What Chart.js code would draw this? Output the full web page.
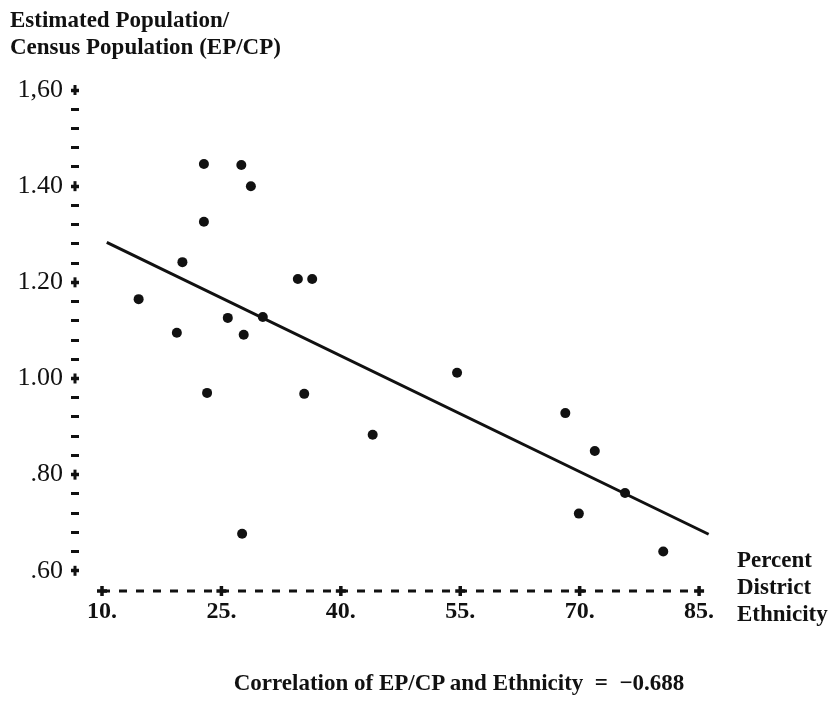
<!DOCTYPE html>
<html>
<head>
<meta charset="utf-8">
<script src="https://cdn.jsdelivr.net/npm/chart.js@4.4.1/dist/chart.umd.min.js"></script>
<style>
	body { margin: 0; background: #fff; }
	#wrap { position: relative; width: 836px; height: 708px; font-family: "Liberation Serif", serif; color: #111; }
	#wrap canvas { position: absolute; left: 0; top: 0; }
	.yTitle { position: absolute; left: 10px; top: 6px; font-weight: bold; font-size: 23px; line-height: 27px; }
	.xTitle { position: absolute; left: 737px; top: 546px; font-weight: bold; font-size: 23px; line-height: 27px; }
	.note { position: absolute; left: 0; width: 918px; top: 669px; text-align: center; font-weight: bold; font-size: 23px; line-height: 27px; }
</style>
</head>
<body>
<div id="wrap">
	<canvas id="scatterEthnicity" width="836" height="708"></canvas>
	<div class="yTitle">Estimated Population/<br>Census Population (EP/CP)</div>
	<div class="xTitle">Percent<br>District<br>Ethnicity</div>
	<div class="note">Correlation of EP/CP and Ethnicity &nbsp;=&nbsp; &minus;0.688</div>
</div>
<script>
// percent district ethnicity vs. EP/CP, one entry per district
const ethnicity = [14.6, 19.4, 20.1, 22.8, 22.8, 23.2, 25.8, 27.5, 27.8, 28.7, 27.6,
	30.2, 34.6, 36.4, 35.4, 44.0, 54.6, 68.2, 71.9, 69.9, 75.7, 80.5];
const epcp = [1.165, 1.095, 1.242, 1.446, 1.326, 0.970, 1.126, 1.444, 1.091, 1.400, 0.677,
	1.128, 1.207, 1.207, 0.968, 0.883, 1.012, 0.928, 0.849, 0.719, 0.762, 0.640];

// fitted line end points
const fitX = [10.6, 86.2];
const fitY = [1.283, 0.676];

const xTicks = [10, 25, 40, 55, 70, 85];
const xTickLabels = ["10.", "25.", "40.", "55.", "70.", "85."];
const yTicks = [0.6, 0.8, 1.0, 1.2, 1.4, 1.6];
const yTickLabels = [".60", ".80", "1.00", "1.20", "1.40", "1,60"];

const xMin = 7.11, xMax = 87;
const yMin = 0.558, yMax = 1.6;
const ink = "#111";

function majorIndex(v) {
	return yTicks.findIndex((t) => Math.abs(t - v) < 1e-6);
}

// vertical arm of the "+" marks on the y axis
const yAxisPlus = {
	id: "yAxisPlus",
	afterDraw(chart) {
		const ctx = chart.ctx;
		const y = chart.scales.y;
		const cx = chart.chartArea.left - 4;
		ctx.save();
		ctx.strokeStyle = ink;
		ctx.lineWidth = 3;
		yTicks.forEach((v) => {
			const py = y.getPixelForValue(v);
			ctx.beginPath();
			ctx.moveTo(cx, py - 5);
			ctx.lineTo(cx, py + 5);
			ctx.stroke();
		});
		ctx.restore();
	},
};

new Chart(document.getElementById("scatterEthnicity").getContext("2d"), {
	type: "scatter",
	data: {
		datasets: [
			{
				label: "Districts",
				data: ethnicity.map((x, i) => ({ x: x, y: epcp[i] })),
				pointRadius: 5,
				pointBackgroundColor: ink,
				pointBorderWidth: 0,
				clip: false,
			},
			{
				type: "line",
				label: "Fit",
				data: fitX.map((x, i) => ({ x: x, y: fitY[i] })),
				borderColor: ink,
				borderWidth: 3,
				pointRadius: 0,
				fill: false,
				clip: false,
			},
			{
				type: "line",
				label: "x axis",
				data: xTicks.map((x) => ({ x: x, y: yMin })),
				borderColor: ink,
				borderWidth: 3,
				borderDash: [8, 9],
				pointStyle: "cross",
				pointRadius: 5,
				pointBorderWidth: 3.5,
				pointBorderColor: ink,
				fill: false,
				clip: false,
			},
		],
	},
	options: {
		responsive: false,
		animation: false,
		layout: { padding: { top: 90, left: 0, right: 121, bottom: 77 } },
		scales: {
			x: {
				type: "linear",
				min: xMin,
				max: xMax,
				afterBuildTicks: (s) => { s.ticks = xTicks.map((v) => ({ value: v })); },
				afterFit: (s) => { s.height = 40; },
				grid: { display: false },
				border: { display: false },
				ticks: {
					autoSkip: false,
					maxRotation: 0,
					padding: -2,
					color: ink,
					font: { family: "Liberation Serif", size: 24, weight: "bold" },
					callback: (v) => {
						const i = xTicks.indexOf(v);
						return i >= 0 ? xTickLabels[i] : "";
					},
				},
			},
			y: {
				min: yMin,
				max: yMax,
				afterBuildTicks: (s) => { s.ticks = s.ticks.filter((t) => t.value >= yTicks[0] - 1e-6); },
				afterFit: (s) => { s.width = 79; },
				border: { display: false },
				grid: {
					drawOnChartArea: false,
					drawTicks: true,
					tickLength: 8,
					tickColor: ink,
					tickWidth: (c) => (c.tick && majorIndex(c.tick.value) >= 0 ? 3.5 : 3),
				},
				ticks: {
					stepSize: 0.04,
					autoSkip: false,
					includeBounds: false,
					padding: 8,
					color: ink,
					font: { family: "Liberation Serif", size: 26 },
					callback: (v) => {
						const i = majorIndex(v);
						return i >= 0 ? yTickLabels[i] : "";
					},
				},
			},
		},
		plugins: {
			legend: { display: false },
			tooltip: { enabled: false },
		},
	},
	plugins: [yAxisPlus],
});
</script>
</body>
</html>
